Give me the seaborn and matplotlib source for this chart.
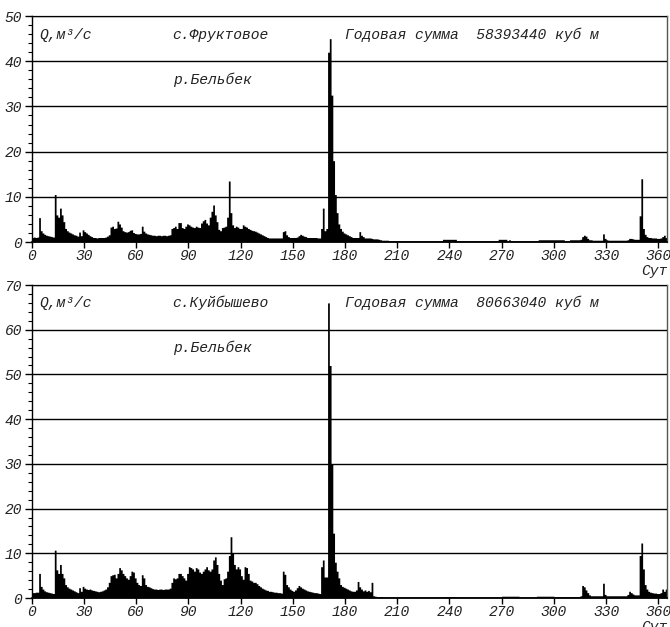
import numpy as np
import pandas as pd
import matplotlib
matplotlib.use("Agg")
import matplotlib.pyplot as plt
from matplotlib.ticker import MultipleLocator
import seaborn as sns

# ---------------- data ----------------
DAYS = list(range(365))

Q_FRUKTOVOE = [
    1.0, 1.1, 1.0, 1.1, 5.4, 2.5, 2.0, 1.7, 1.5, 1.4,
    1.3, 1.2, 1.1, 10.5, 6.0, 5.5, 7.5, 6.0, 4.5, 3.0,
    2.5, 2.2, 2.0, 1.8, 1.6, 1.5, 1.3, 2.2, 1.4, 2.7,
    2.3, 2.0, 1.7, 1.4, 1.2, 1.0, 1.0, 0.9, 1.0, 1.0,
    1.0, 1.0, 1.1, 1.3, 1.6, 3.3, 3.5, 3.0, 3.1, 4.6,
    4.0, 3.3, 2.5, 2.3, 2.2, 2.3, 2.6, 2.7, 2.1, 1.9,
    1.8, 1.8, 1.9, 3.5, 2.4, 2.0, 1.8, 1.7, 1.6, 1.5,
    1.5, 1.4, 1.5, 1.5, 1.4, 1.5, 1.5, 1.4, 1.5, 1.6,
    3.0, 3.2, 3.5, 3.0, 4.3, 4.3, 3.2, 3.0, 3.5, 4.0,
    3.8, 3.5, 3.3, 3.2, 3.5, 3.3, 3.2, 4.2, 4.7, 5.0,
    4.2, 3.8, 5.5, 6.8, 8.2, 6.0, 4.5, 2.8, 2.5, 3.2,
    3.3, 3.5, 5.5, 13.5, 6.5, 3.8, 3.2, 3.5, 3.3, 3.0,
    3.0, 3.8, 3.5, 3.3, 3.0, 2.8, 2.6, 2.5, 2.4, 2.2,
    2.0, 1.8, 1.6, 1.4, 1.2, 1.0, 0.9, 0.9, 0.9, 0.9,
    0.9, 0.9, 0.9, 0.9, 2.3, 2.5, 1.6, 1.2, 1.0, 1.0,
    1.0, 1.0, 1.1, 1.4, 1.7, 1.5, 1.3, 1.2, 1.0, 1.0,
    1.0, 1.0, 1.0, 1.0, 0.9, 0.9, 3.0, 7.5, 2.5, 3.0,
    42.0, 45.0, 32.5, 18.0, 10.5, 6.5, 4.0, 3.0, 2.4, 2.0,
    1.8, 1.6, 1.4, 1.2, 1.0, 1.0, 1.0, 1.0, 2.3, 1.5,
    1.2, 0.9, 0.9, 0.9, 0.9, 0.8, 0.7, 0.7, 0.7, 0.6,
    0.5, 0.4, 0.4, 0.4, 0.4, 0.3, 0.3, 0.3, 0.3, 0.3,
    0.3, 0.3, 0.3, 0.3, 0.3, 0.3, 0.3, 0.3, 0.3, 0.3,
    0.3, 0.3, 0.3, 0.3, 0.3, 0.3, 0.3, 0.3, 0.3, 0.3,
    0.3, 0.3, 0.3, 0.3, 0.3, 0.3, 0.6, 0.6, 0.6, 0.6,
    0.6, 0.6, 0.6, 0.6, 0.3, 0.3, 0.3, 0.3, 0.3, 0.3,
    0.3, 0.3, 0.3, 0.3, 0.3, 0.3, 0.3, 0.3, 0.3, 0.3,
    0.3, 0.3, 0.3, 0.3, 0.3, 0.3, 0.3, 0.3, 0.6, 0.6,
    0.6, 0.6, 0.6, 0.3, 0.5, 0.3, 0.3, 0.3, 0.3, 0.3,
    0.3, 0.3, 0.3, 0.3, 0.3, 0.3, 0.3, 0.3, 0.3, 0.3,
    0.3, 0.5, 0.5, 0.5, 0.5, 0.5, 0.5, 0.5, 0.5, 0.5,
    0.5, 0.5, 0.5, 0.5, 0.5, 0.5, 0.3, 0.3, 0.3, 0.5,
    0.5, 0.5, 0.5, 0.5, 0.5, 0.6, 1.2, 1.5, 1.3, 0.8,
    0.5, 0.5, 0.4, 0.4, 0.4, 0.4, 0.4, 0.4, 1.8, 0.8,
    0.5, 0.4, 0.4, 0.4, 0.4, 0.4, 0.4, 0.4, 0.4, 0.4,
    0.4, 0.4, 0.5, 0.8, 0.8, 0.7, 0.6, 0.6, 0.6, 5.8,
    14.0, 3.0, 1.7, 1.2, 1.0, 1.0, 0.9, 0.9, 0.9, 0.8,
    0.8, 0.9, 1.2, 1.5, 1.0,
]

Q_KUIBYSHEVO = [
    1.2, 1.2, 1.3, 1.3, 5.5, 2.6, 2.0, 1.6, 1.4, 1.3,
    1.2, 1.1, 1.0, 10.7, 6.3, 5.5, 7.5, 5.5, 4.5, 3.0,
    2.5, 2.2, 2.0, 1.8, 1.6, 1.4, 1.2, 2.3, 1.5, 2.6,
    2.2, 2.0, 1.9, 2.0, 1.8, 1.7, 1.6, 1.5, 1.4, 1.5,
    1.6, 1.8, 2.0, 2.5, 3.5, 5.0, 5.2, 5.3, 4.5, 5.5,
    6.8, 6.3, 5.5, 5.0, 4.5, 4.2, 5.0, 6.0, 5.8, 4.5,
    3.5, 3.0, 2.8, 5.2, 4.5, 3.0, 2.6, 2.5, 2.3, 2.1,
    2.0, 2.0, 1.9, 2.0, 2.0, 1.9, 2.0, 2.0, 2.0, 2.2,
    3.5, 4.5, 4.3, 4.5, 5.5, 5.5, 5.0, 4.5, 4.0, 5.5,
    7.0, 6.8, 6.5, 6.0, 6.8, 6.5, 5.8, 5.5, 6.0, 6.5,
    7.0, 6.3, 6.0, 6.5, 8.5, 9.2, 7.5, 5.5, 4.0, 3.0,
    4.3, 4.5, 6.0, 9.5, 13.7, 10.0, 7.5, 6.5, 7.0, 6.5,
    5.0, 4.2, 7.0, 6.8, 5.5, 4.0, 3.8, 3.5, 3.5, 3.2,
    2.8, 2.5, 2.2, 2.0, 1.8, 1.7, 1.5, 1.5, 1.4, 1.3,
    1.3, 1.2, 1.2, 1.1, 6.0, 5.3, 3.0, 2.5, 2.0, 1.7,
    1.5, 1.8, 2.3, 2.8, 2.5, 2.2, 2.0, 1.8, 1.6, 1.5,
    1.4, 1.3, 1.2, 1.2, 1.1, 1.0, 7.0, 8.5, 4.7, 4.7,
    66.0, 52.0, 30.0, 14.5, 8.0, 6.0, 4.5, 3.0, 2.6, 2.4,
    2.2, 2.0, 1.8, 1.6, 1.5, 1.5, 1.8, 3.7, 2.5, 2.0,
    1.6, 1.8, 1.5, 1.7, 1.4, 3.5, 0.5, 0.4, 0.3, 0.3,
    0.3, 0.3, 0.25, 0.25, 0.25, 0.25, 0.25, 0.25, 0.25, 0.25,
    0.25, 0.25, 0.25, 0.25, 0.25, 0.25, 0.25, 0.25, 0.25, 0.25,
    0.25, 0.25, 0.25, 0.25, 0.25, 0.25, 0.25, 0.25, 0.25, 0.25,
    0.25, 0.25, 0.25, 0.25, 0.25, 0.25, 0.3, 0.3, 0.3, 0.3,
    0.3, 0.3, 0.3, 0.3, 0.25, 0.25, 0.25, 0.25, 0.25, 0.25,
    0.25, 0.25, 0.25, 0.25, 0.25, 0.25, 0.25, 0.25, 0.25, 0.25,
    0.25, 0.25, 0.25, 0.25, 0.25, 0.25, 0.25, 0.25, 0.25, 0.25,
    0.4, 0.4, 0.4, 0.4, 0.4, 0.4, 0.4, 0.4, 0.4, 0.4,
    0.25, 0.25, 0.25, 0.25, 0.25, 0.25, 0.25, 0.25, 0.25, 0.25,
    0.4, 0.4, 0.4, 0.4, 0.4, 0.4, 0.4, 0.4, 0.4, 0.4,
    0.3, 0.3, 0.3, 0.3, 0.3, 0.3, 0.3, 0.3, 0.3, 0.3,
    0.3, 0.3, 0.3, 0.3, 0.3, 0.5, 2.8, 2.5, 1.8, 1.2,
    0.7, 0.5, 0.5, 0.5, 0.5, 0.5, 0.5, 0.5, 3.3, 0.8,
    0.5, 0.5, 0.5, 0.5, 0.5, 0.5, 0.5, 0.5, 0.5, 0.5,
    0.5, 0.5, 0.8, 1.5, 1.2, 0.9, 0.7, 0.7, 0.7, 9.5,
    12.3, 6.5, 3.0, 2.0, 1.5, 1.3, 1.2, 1.1, 1.1, 1.0,
    1.0, 1.2, 2.0, 1.5, 2.0,
]

STATIONS = ["с.Фруктовое", "с.Куйбышево"]
RIVER = "р.Бельбек"
ANNUAL_SUMS = ["58393440", "80663040"]
Y_MAX = [50, 70]
Y_LABEL = "Q,м³/с"
X_LABEL = "Сут"
X_TICKS = [0, 30, 60, 90, 120, 150, 180, 210, 240, 270, 300, 330, 360]

# ---------------- style ----------------
sns.set_theme(style="white")
plt.rcParams["font.family"] = ["Liberation Mono", "DejaVu Sans Mono"]
plt.rcParams["font.style"] = "italic"

FS = 10.5
TXT_COLOR = "#222222"

fig = plt.figure(figsize=(6.7, 6.27), dpi=100)
ax_top = fig.add_axes([0.0473, 0.6140, 0.9482, 0.3604])
ax_bot = fig.add_axes([0.0473, 0.04625, 0.9482, 0.4992])

series = [Q_FRUKTOVOE, Q_KUIBYSHEVO]
label_offsets = [(-19, -64, -29), (-18, -63, -29)]

for i, ax in enumerate([ax_top, ax_bot]):
    df = pd.DataFrame({"day": DAYS, "q": series[i]})
    sns.histplot(data=df, x="day", weights="q", bins=365, binrange=(0, 365),
                 element="step", fill=True, color="black", alpha=1,
                 linewidth=0, ax=ax)
    ax.set_xlim(0, 365)
    ax.set_ylim(0, Y_MAX[i])
    ax.set_xlabel("")
    ax.set_ylabel("")
    ax.set_xticks(X_TICKS)
    ax.yaxis.set_major_locator(MultipleLocator(10))
    ax.yaxis.set_minor_locator(MultipleLocator(2))
    ax.yaxis.grid(True, which="major", color="black", linewidth=1)
    ax.xaxis.grid(False)
    ax.set_axisbelow(False)

    ax.tick_params(axis="y", which="major", left=True, direction="out",
                   length=5, width=1, color="black", labelsize=FS,
                   labelcolor=TXT_COLOR, pad=2)
    ax.tick_params(axis="y", which="minor", left=True, direction="out",
                   length=3, width=0.8, color="black")
    ax.tick_params(axis="x", which="major", bottom=True, direction="out",
                   length=4, width=1, color="black", labelsize=FS,
                   labelcolor=TXT_COLOR, pad=1)

    for side, col, lw in [("left", "black", 1.0), ("bottom", "black", 1.2),
                          ("top", "#777777", 1.0), ("right", "#555555", 1.0)]:
        ax.spines[side].set_visible(True)
        ax.spines[side].set_color(col)
        ax.spines[side].set_linewidth(lw)

    o1, o2, o3 = label_offsets[i]
    kw = dict(xycoords=("data", "axes fraction"), textcoords="offset pixels",
              va="center", ha="left", fontsize=FS, color=TXT_COLOR)
    ax.annotate(Y_LABEL, xy=(4.4, 1), xytext=(0, o1), **kw)
    ax.annotate(STATIONS[i], xy=(81, 1), xytext=(0, o1), **kw)
    ax.annotate(f"Годовая сумма  {ANNUAL_SUMS[i]} куб м", xy=(180, 1),
                xytext=(0, o1), **kw)
    ax.annotate(RIVER, xy=(81, 1), xytext=(0, o2), **kw)
    ax.annotate(X_LABEL, xy=(350, 0), xytext=(0, o3), **kw)

fig.savefig("out.png", dpi=100)
